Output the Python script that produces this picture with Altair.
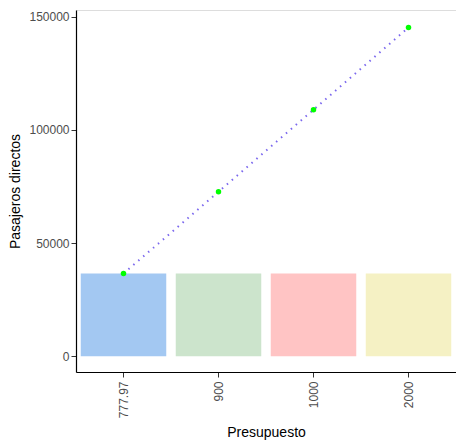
import altair as alt
import pandas as pd

cats = ["777.97", "900", "1000", "2000"]
bar_vals = [36500, 36500, 36500, 36500]
pt_vals = [36500, 72700, 108900, 145300]
colors = ["#a3c8f2", "#cce4cc", "#ffc4c4", "#f5f1c4"]

df = pd.DataFrame({"cat": cats, "bar": bar_vals, "pt": pt_vals, "col": colors})

x = alt.X("cat:N", sort=cats, title="Presupuesto",
          scale=alt.Scale(paddingInner=0.1, paddingOuter=0.05),
          axis=alt.Axis(labelAngle=270, labelColor="#4d4d4d", tickColor="#333",
                        domainColor="black", domainWidth=1.2,
                        labelFontSize=12, titleFontSize=14, titleFontWeight="normal",
                        labelPadding=4, titlePadding=8))
yscale = alt.Scale(domain=[-7000, 153000], nice=False, zero=False)
yaxis = alt.Axis(values=[0, 50000, 100000, 150000], format="d", grid=False, labelColor="#4d4d4d",
                 tickColor="#333", domainColor="black", domainWidth=1.2,
                 labelFontSize=12, titleFontSize=14,
                 titleFontWeight="normal", titlePadding=6)

base = alt.Chart(df)
bars = base.mark_bar().encode(
    x=x, y=alt.Y("bar:Q", scale=yscale, axis=yaxis, title="Pasajeros directos"),
    y2=alt.datum(0), color=alt.Color("col:N", scale=None))
line = base.mark_line(color="#7b68ee", strokeDash=[1.5, 5], strokeWidth=2).encode(
    x=alt.X("cat:N", sort=cats), y=alt.Y("pt:Q", scale=yscale))
pts = base.mark_circle(color="#00ff00", opacity=1, size=30).encode(
    x=alt.X("cat:N", sort=cats), y=alt.Y("pt:Q", scale=yscale))

chart = (bars + line + pts).properties(
    width=380, height=362, padding={"left": 0, "top": 2, "right": 0, "bottom": 0}
).configure_view(stroke="black", strokeWidth=1.2, strokeOpacity=1).configure_axis(
    labelFont="Liberation Sans", titleFont="Liberation Sans", titleColor="black"
).configure(background="white")

chart.save("out.html", embed_options={"renderer": "svg", "actions": False})
